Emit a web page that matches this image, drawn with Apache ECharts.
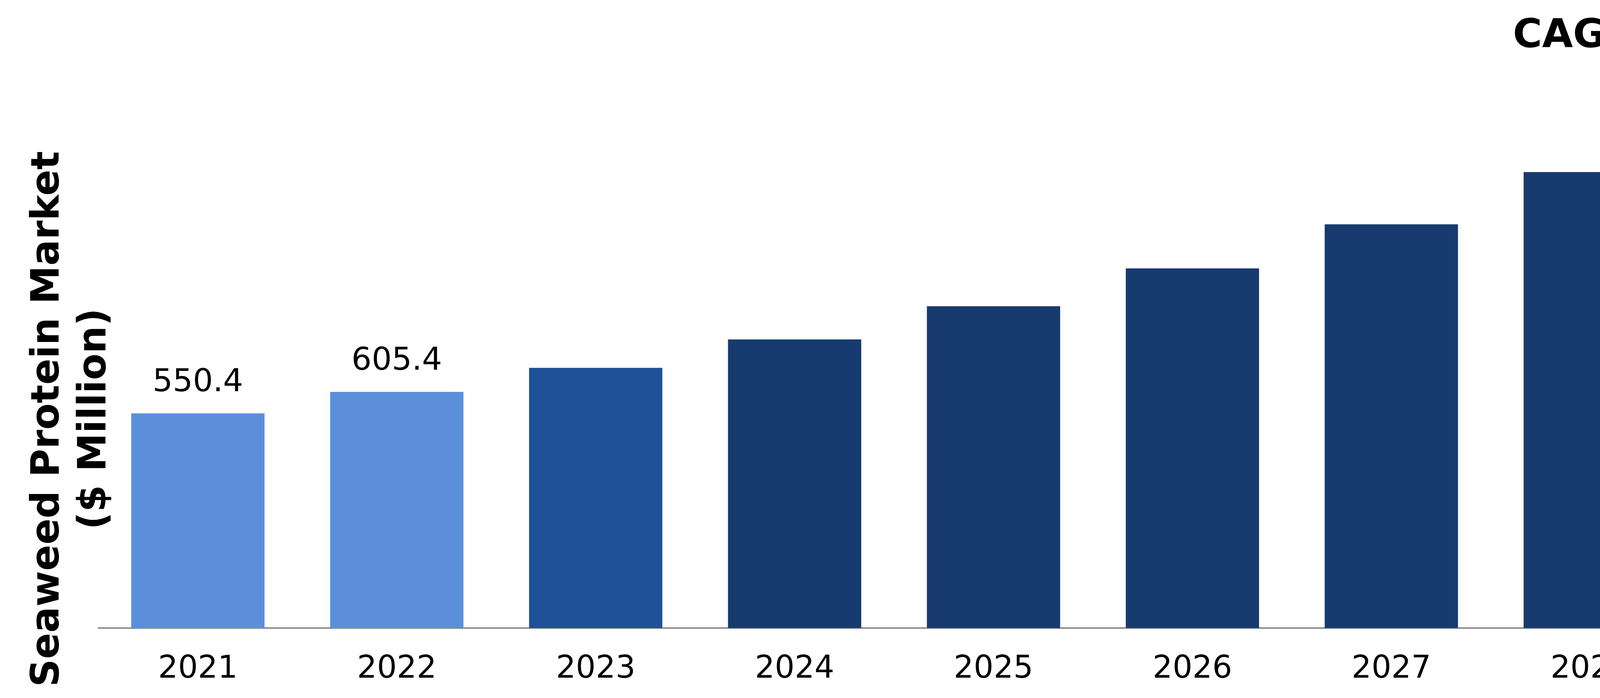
<!DOCTYPE html>
<html>
<head>
<meta charset="utf-8">
<script src="https://cdn.jsdelivr.net/npm/echarts@6/dist/echarts.min.js"></script>
<style>
html,body{margin:0;padding:0;background:#ffffff;overflow:hidden;}
#chart{width:5404px;height:1786px;}
</style>
</head>
<body>
<div id="chart"></div>
<script>
const years = ['2021','2022','2023','2024','2025','2026','2027','2028','2029','2030'];
const marketValues = [550.4, 605.4, 667, 740, 825, 922, 1035, 1169, 1327, 1512.0];
const labeledYears = ['2021','2022','2030'];
const yAxisTitle = 'Seaweed Protein Market\n($ Million)';
const cagrText = 'CAGR: 11.6%';

const colorLight = '#5B8FDA';
const colorMid = '#1F5196';
const colorDark = '#183B6F';

const fmt = v => v.toLocaleString('en-US', {minimumFractionDigits: 1, maximumFractionDigits: 1});

const seriesData = marketValues.map((v, i) => {
  const y = years[i];
  const item = {
    value: v,
    itemStyle: { color: i < 2 ? colorLight : (i === 2 ? colorMid : colorDark) }
  };
  if (labeledYears.includes(y)) {
    item.label = { show: true };
    if (y === '2030') {
      item.label.distance = -16;
      item.label.offset = [16, 0];
    }
  } else {
    item.label = { show: false };
  }
  return item;
});

const chart = echarts.init(document.getElementById('chart'), null, {renderer: 'canvas'});
chart.setOption({
  animation: false,
  backgroundColor: '#ffffff',
  grid: { left: 252, right: 60, top: 10, bottom: 179, containLabel: false },
  xAxis: {
    type: 'category',
    data: years,
    axisLine: { show: true, lineStyle: { color: '#8C8C8C', width: 4 } },
    axisTick: { show: false },
    axisLabel: { color: '#000000', fontFamily: 'DejaVu Sans', fontSize: 80, margin: 66 }
  },
  yAxis: {
    type: 'value',
    min: 0,
    max: 1600,
    show: false,
    splitLine: { show: false }
  },
  series: [{
    type: 'bar',
    data: seriesData,
    barCategoryGap: '33%',
    label: {
      position: 'top',
      distance: 37,
      color: '#000000',
      fontFamily: 'DejaVu Sans',
      fontSize: 81,
      formatter: p => fmt(p.value)
    }
  }],
  graphic: [
    {
      type: 'text',
      x: 184, y: 1072,
      rotation: Math.PI / 2,
      style: {
        text: yAxisTitle,
        font: 'bold 99px "DejaVu Sans"',
        fill: '#000000',
        textAlign: 'center',
        textVerticalAlign: 'middle',
        lineHeight: 120
      }
    },
    {
      type: 'text',
      x: 4246, y: 94,
      style: {
        text: cagrText,
        font: 'bold 102px "DejaVu Sans"',
        fill: '#000000',
        textAlign: 'center',
        textVerticalAlign: 'middle'
      }
    }
  ]
});
</script>
</body>
</html>
